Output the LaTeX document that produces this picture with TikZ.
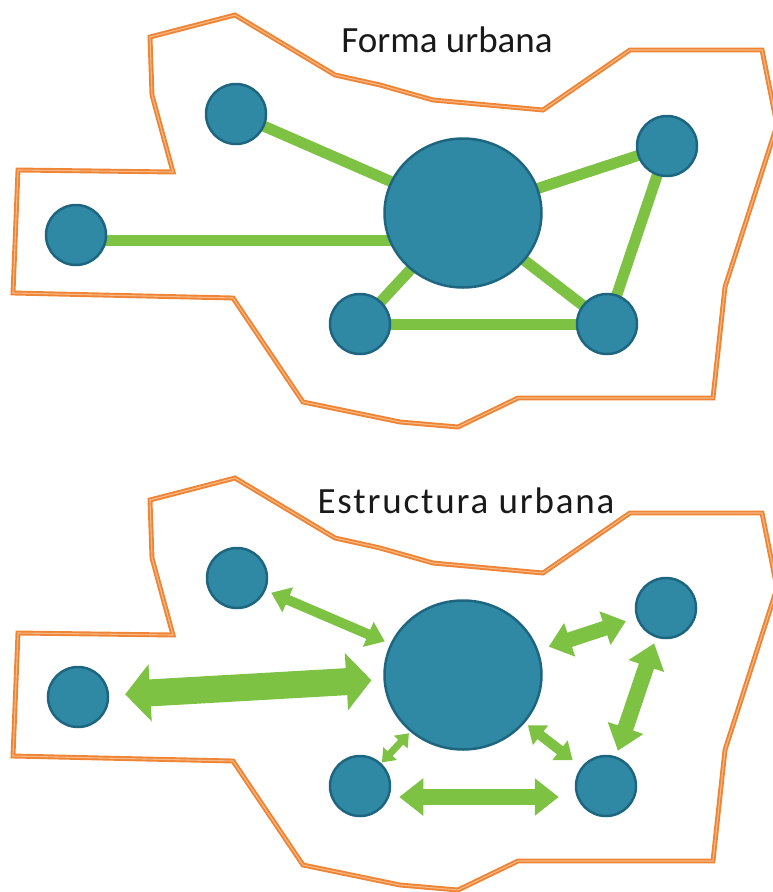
\documentclass[tikz,border=0pt]{standalone}
\usepackage{fontspec}
\setmainfont{Carlito}
\usetikzlibrary{arrows.meta,shapes.geometric,backgrounds}
\definecolor{teal1}{HTML}{2F89A5}
\definecolor{teal2}{HTML}{1E6680}
\definecolor{lgreen}{HTML}{7DC242}
\definecolor{orng}{HTML}{EE8434}
\definecolor{orngl}{HTML}{F7B987}
\begin{document}
\begin{tikzpicture}[x=1pt,y=-1pt,
  town/.style={circle,fill=teal1,draw=teal2,line width=2.5pt,minimum size=60pt,inner sep=0pt},
  city/.style={ellipse,fill=teal1,draw=teal2,line width=2.5pt,minimum width=157pt,minimum height=149pt,inner sep=0pt},
  link/.style={draw=lgreen,line width=11pt},
  border/.style={draw=orng,line width=1.9pt,double=orngl,double distance=1.1pt,line join=miter},
  title/.style={font=\fontsize{37}{40}\selectfont,text=black!90,anchor=base,inner sep=0pt},
  biarrow/.style n args={3}{draw=lgreen,line width=#1,{Triangle[width=#2,length=#3]}-{Triangle[width=#2,length=#3]}}
]
\useasboundingbox (0,0) rectangle (772,892);
\def\outline{(150,37) -- (235,15) -- (335,75) -- (380,85) -- (433,100) -- (543,110) -- (630,50) -- (762,50) -- (777,125) -- (725,287) -- (713,398) -- (518,398) -- (458,427) -- (400,422) -- (303,402) -- (233,298) -- (13,293) -- (18,170) -- (173,172) -- (152,95) -- cycle}
% top panel
\draw[border] \outline;
\node[title] (t1) at (447,52) {Forma urbana};
\node[city] (C) at (463,213) {};
\node[town] (TL) at (236,114) {};
\node[town] (L) at (76,235) {};
\node[town] (BM) at (360,324) {};
\node[town] (BR) at (607,324) {};
\node[town] (RT) at (667,146) {};
\begin{scope}[on background layer]
  \draw[link] (TL.center) -- (C.center);
  \draw[link] ([yshift=-5pt]L.center) -- ([yshift=-5pt]L.center -| C.center);
  \draw[link] (C.center) -- (RT.center);
  \draw[link] (C.center) -- (BM.center);
  \draw[link] (C.center) -- (BR.center);
  \draw[link] (BM.center) -- (BR.center);
  \draw[link] (RT.center) -- (BR.center);
\end{scope}
% bottom panel
\begin{scope}[shift={(0,463)}]
  \draw[border] \outline;
\end{scope}
\node[title] (t2) at (466,513) {\addfontfeature{LetterSpace=5}Estructura urbana};
\node[city] (C2) at (463,675) {};
\node[town] (TL2) at (237,578) {};
\node[town] (L2) at (78,697) {};
\node[town] (BM2) at (360,786) {};
\node[town] (BR2) at (606,786) {};
\node[town] (RT2) at (666,608) {};
\draw[biarrow={10pt}{26pt}{18pt},shorten <=6pt,shorten >=6pt] (TL2) -- (C2);
\draw[biarrow={27pt}{56pt}{25pt},shorten <=16pt,shorten >=12pt] (L2) -- (C2);
\draw[biarrow={15pt}{34pt}{22pt},shorten <=11pt,shorten >=11pt] (C2) -- (RT2);
\draw[biarrow={16pt}{36pt}{24pt},shorten <=6pt,shorten >=6pt] (RT2) -- (BR2);
\draw[biarrow={10pt}{24pt}{16pt},shorten <=4pt,shorten >=11pt] (C2) -- (BR2);
\draw[biarrow={7pt}{18pt}{12pt},shorten <=1pt,shorten >=2pt] (BM2) -- (C2);
\draw[biarrow={16pt}{36pt}{24pt},shorten <=8pt,shorten >=16pt] ([yshift=-11pt]BM2.east) -- ([yshift=-11pt]BR2.west);
\end{tikzpicture}
\end{document}
